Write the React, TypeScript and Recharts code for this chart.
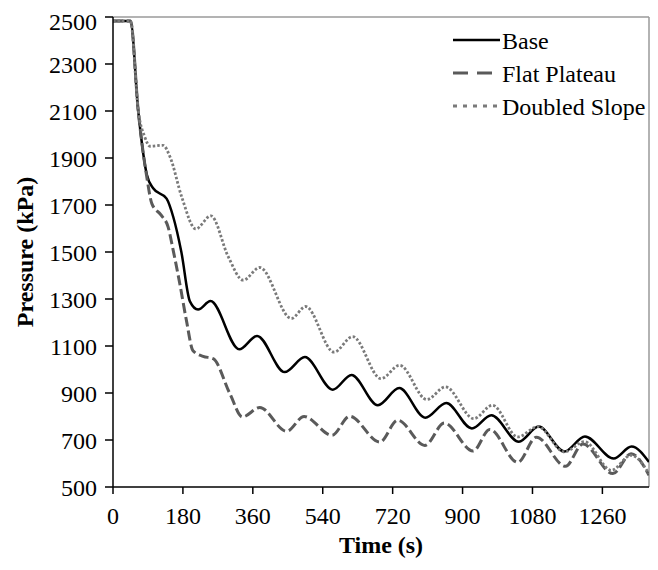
import { LineChart, Line, XAxis, YAxis, Legend, ReferenceLine } from 'recharts'

// pressure decline (time in s, pressure in kPa)
const baseTime = [0, 45, 65, 87, 104, 138, 155, 176, 198, 219, 251, 325, 371, 442, 494, 566, 614, 682, 737, 804, 858, 924, 974, 1045, 1096, 1162, 1215, 1289, 1335, 1380]
const basePressure = [2483, 2483, 2100, 1830, 1770, 1727, 1650, 1500, 1290, 1255, 1291, 1086, 1143, 989, 1053, 914, 977, 848, 921, 795, 857, 749, 805, 693, 757, 651, 715, 621, 672, 606]

const flatTime = [0, 45, 65, 87, 100, 125, 142, 155, 172, 189, 206, 232, 258, 301, 333, 378, 447, 492, 564, 609, 687, 733, 803, 853, 927, 970, 1042, 1090, 1165, 1210, 1287, 1334, 1380]
const flatPressure = [2483, 2483, 2100, 1819, 1706, 1655, 1606, 1507, 1365, 1209, 1080, 1056, 1046, 897, 798, 838, 737, 800, 720, 801, 691, 784, 677, 772, 653, 745, 605, 712, 588, 683, 557, 642, 550]

const doubledTime = [0, 45, 65, 82, 95, 129, 147, 177, 213, 252, 297, 335, 378, 459, 496, 569, 617, 690, 738, 808, 856, 929, 977, 1042, 1094, 1162, 1214, 1283, 1334, 1380]
const doubledPressure = [2483, 2483, 2100, 1989, 1950, 1954, 1904, 1734, 1598, 1654, 1479, 1380, 1434, 1217, 1268, 1074, 1140, 961, 1018, 872, 926, 791, 848, 713, 757, 649, 693, 571, 635, 557]

const xTicks = [0, 180, 360, 540, 720, 900, 1080, 1260]
const yTicks = [500, 700, 900, 1100, 1300, 1500, 1700, 1900, 2100, 2300, 2500]

const series = [
  { name: 'Base', time: baseTime, values: basePressure, color: '#000000', width: 2.5, dash: undefined },
  { name: 'Flat Plateau', time: flatTime, values: flatPressure, color: '#5a5a5a', width: 3, dash: '10 4' },
  { name: 'Doubled Slope', time: doubledTime, values: doubledPressure, color: '#7a7a7a', width: 2.8, dash: '2.5 2' },
]

const font = '"Times New Roman", "Liberation Serif", Times, serif'

function LegendBox() {
  const samples = ['', '15 9', '4 6']
  return (
    <svg width={210} height={104}>
      {series.map((s, i) => {
        const y = 20 + i * 33
        return (
          <g key={s.name}>
            <line x1={3} x2={50} y1={y - 2} y2={y - 2} stroke={s.color} strokeWidth={s.width} strokeDasharray={samples[i] || undefined} />
            <text x={52} y={y + 7} fontSize={24} style={{ fontFamily: font }} fill="#000">{s.name}</text>
          </g>
        )
      })}
    </svg>
  )
}

export default function App() {
  return (
    <div style={{ width: 650, height: 554, background: '#fff', fontFamily: font }}>
      <LineChart width={650} height={554} margin={{ top: 9, right: 9, left: 0, bottom: 0 }}>
        <XAxis
          dataKey="t"
          type="number"
          domain={[0, 1380]}
          ticks={xTicks}
          allowDataOverflow
          height={75}
          stroke="#000"
          strokeWidth={1.5}
          tickSize={7}
          tickMargin={13}
          tick={{ fill: '#000', fontSize: 24, style: { fontFamily: font } }}
          label={{ value: 'Time (s)', position: 'insideBottom', offset: 9, fill: '#000', fontSize: 24, fontWeight: 'bold', style: { fontFamily: font } }}
        />
        <YAxis
          type="number"
          domain={[500, 2500]}
          ticks={yTicks}
          allowDataOverflow
          width={105}
          stroke="#000"
          strokeWidth={1.5}
          tickSize={8}
          tickMargin={8}
          tick={{ fill: '#000', fontSize: 24, style: { fontFamily: font } }}
          label={{
            content: () => (
              <text x={25} y={244} transform="rotate(-90, 25, 244)" textAnchor="middle" fontSize={24} fontWeight="bold" style={{ fontFamily: font }} fill="#000">
                Pressure (kPa)
              </text>
            ),
          }}
        />
        <ReferenceLine y={2500} stroke="#9a9a9a" strokeWidth={1.5} />
        <ReferenceLine x={1380} stroke="#9a9a9a" strokeWidth={1.5} />
        {series.map((s) => (
          <Line
            key={s.name}
            name={s.name}
            data={s.time.map((t, i) => ({ t, p: s.values[i] }))}
            dataKey="p"
            type="monotone"
            stroke={s.color}
            strokeWidth={s.width}
            strokeDasharray={s.dash}
            dot={false}
            activeDot={false}
            isAnimationActive={false}
          />
        ))}
        <Legend layout="vertical" align="center" verticalAlign="middle" content={() => <LegendBox />} wrapperStyle={{ top: 14, left: 442, width: 210, height: 104 }} />
      </LineChart>
    </div>
  )
}
